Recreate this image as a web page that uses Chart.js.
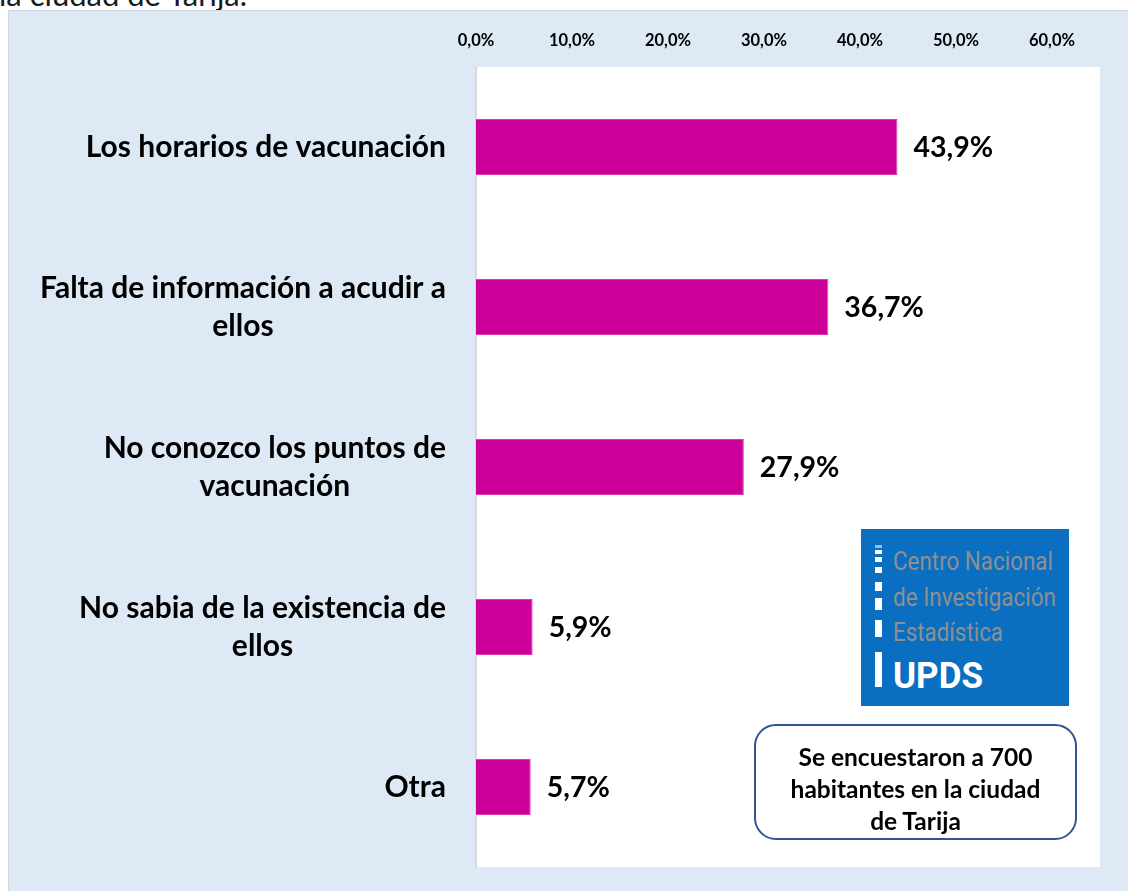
<!DOCTYPE html>
<html><head><meta charset="utf-8">
<script src="https://cdn.jsdelivr.net/npm/chart.js@4.4.0/dist/chart.umd.min.js"></script>
<style>
html,body{margin:0;padding:0;width:1128px;height:891px;overflow:hidden;background:#fff;font-family:Lato,sans-serif}
#title{position:absolute;left:-1px;top:-21px;font-size:31px;line-height:31px;color:#1a1a1a;white-space:nowrap}
#panel{position:absolute;left:8px;top:10px;width:1130px;height:890px;background:#DDE9F5;border-top:1px solid #cdd4db;border-left:1px solid #cdd4db}
#c{position:absolute;left:0;top:0}
#logo{position:absolute;left:861px;top:529px;width:208px;height:177px;background:#0B6FC1;overflow:hidden}
.seg{position:absolute;left:14px;width:7px;background:#fff}
.lt{position:absolute;left:32px;white-space:nowrap;font-family:Roboto,sans-serif;color:#8f8f8f;font-size:26px;line-height:26px;transform-origin:0 0}
#note{position:absolute;left:754px;top:724px;width:319px;height:98px;padding-top:14px;border:2px solid #2F5597;border-radius:22px;background:#fff;display:flex;align-items:center;justify-content:center;text-align:center;font-weight:bold;font-size:24.5px;line-height:32px;color:#000}
</style></head>
<body>
<div id="title">la ciudad de Tarija.</div>
<div id="panel"></div>
<canvas id="c" width="1128" height="891"></canvas>
<div id="logo">
  <div class="seg" style="top:16px;height:3px;background:#8fc3ee"></div>
  <div class="seg" style="top:21px;height:4px"></div>
  <div class="seg" style="top:28px;height:5px"></div>
  <div class="seg" style="top:38px;height:6px"></div>
  <div class="seg" style="top:53px;height:9px"></div>
  <div class="seg" style="top:69px;height:12px"></div>
  <div class="seg" style="top:91px;height:17px"></div>
  <div class="seg" style="top:123px;height:35px"></div>
  <div class="lt" data-w="160" style="top:19px">Centro Nacional</div>
  <div class="lt" data-w="163" style="top:55px">de Investigación</div>
  <div class="lt" data-w="110" style="top:90px">Estadística</div>
  <div class="lt" data-w="90" style="top:128px;color:#fff;font-weight:bold;font-size:37px;line-height:37px">UPDS</div>
</div>
<div id="note">Se encuestaron a 700<br>habitantes en la ciudad<br>de Tarija</div>
<script>
// ---- data ----
const categories = [
  ["Los horarios de vacunación"],
  ["Falta de información a acudir a", "ellos"],
  ["No conozco los puntos de", "vacunación"],
  ["No sabia de la existencia de", "ellos"],
  ["Otra"]
];
const values = [43.9, 36.7, 27.9, 5.9, 5.7];
const tickValues = [0, 10, 20, 30, 40, 50, 60];
const tickLabels = ["0,0%", "10,0%", "20,0%", "30,0%", "40,0%", "50,0%", "60,0%"];
const valueLabels = values.map(v => v.toFixed(1).replace('.', ',') + '%');

document.querySelectorAll('.lt').forEach(el => {
  const w = el.getBoundingClientRect().width;
  el.style.transform = 'scaleX(' + (parseFloat(el.dataset.w) / w) + ')';
});

const plotBg = {
  id: 'plotBg',
  beforeDraw(chart) {
    const {ctx, chartArea: a} = chart;
    ctx.save(); ctx.fillStyle = '#fff';
    ctx.fillRect(a.left, a.top, a.right - a.left, a.bottom - a.top);
    ctx.restore();
  }
};
const valLabels = {
  id: 'valLabels',
  afterDatasetsDraw(chart) {
    const {ctx} = chart; const meta = chart.getDatasetMeta(0);
    ctx.save(); ctx.font = 'bold 28.5px Lato'; ctx.fillStyle = '#000';
    ctx.textBaseline = 'middle'; ctx.textAlign = 'left';
    meta.data.forEach((bar, i) => ctx.fillText(valueLabels[i], bar.x + 16, bar.y + 1));
    ctx.restore();
  }
};
const catLabels = {
  id: 'catLabels',
  afterDraw(chart) {
    const {ctx} = chart; const ys = chart.scales.y;
    ctx.save(); ctx.font = 'bold 30px Lato'; ctx.fillStyle = '#000';
    ctx.textBaseline = 'middle'; ctx.textAlign = 'center';
    categories.forEach((lines, i) => {
      const py = ys.getPixelForTick(i);
      const w = Math.max(...lines.map(l => ctx.measureText(l).width));
      const cx = ys.right - 30 - w / 2;
      lines.forEach((l, j) => ctx.fillText(l, cx, py + (j - (lines.length - 1) / 2) * 38));
    });
    ctx.restore();
  }
};

new Chart(document.getElementById('c'), {
  type: 'bar',
  data: {
    labels: categories,
    datasets: [{ data: values, backgroundColor: '#CC0099', borderColor: '#D83AAE', borderWidth: 1,
      barPercentage: 0.35, categoryPercentage: 1 }]
  },
  options: {
    indexAxis: 'y', responsive: false, devicePixelRatio: 1, animation: false,
    layout: { padding: { top: 0, left: 0, right: 28, bottom: 24 } },
    plugins: { legend: { display: false }, tooltip: { enabled: false } },
    scales: {
      x: {
        position: 'top', min: 0, max: 65,
        afterBuildTicks: s => { s.ticks = tickValues.map(v => ({ value: v })); },
        afterFit: s => { s.height = 67; },
        grid: { display: false }, border: { display: false },
        ticks: { callback: (v, i) => tickLabels[i], color: '#000', font: { family: 'Lato', weight: 'bold', size: 16.5 },
          padding: 8, maxRotation: 0, autoSkip: false }
      },
      y: {
        afterFit: s => { s.width = 476; },
        grid: { display: false },
        border: { display: true, color: '#D9D9D9', width: 2 },
        ticks: { display: false }
      }
    }
  },
  plugins: [plotBg, valLabels, catLabels]
});
</script>
</body></html>
